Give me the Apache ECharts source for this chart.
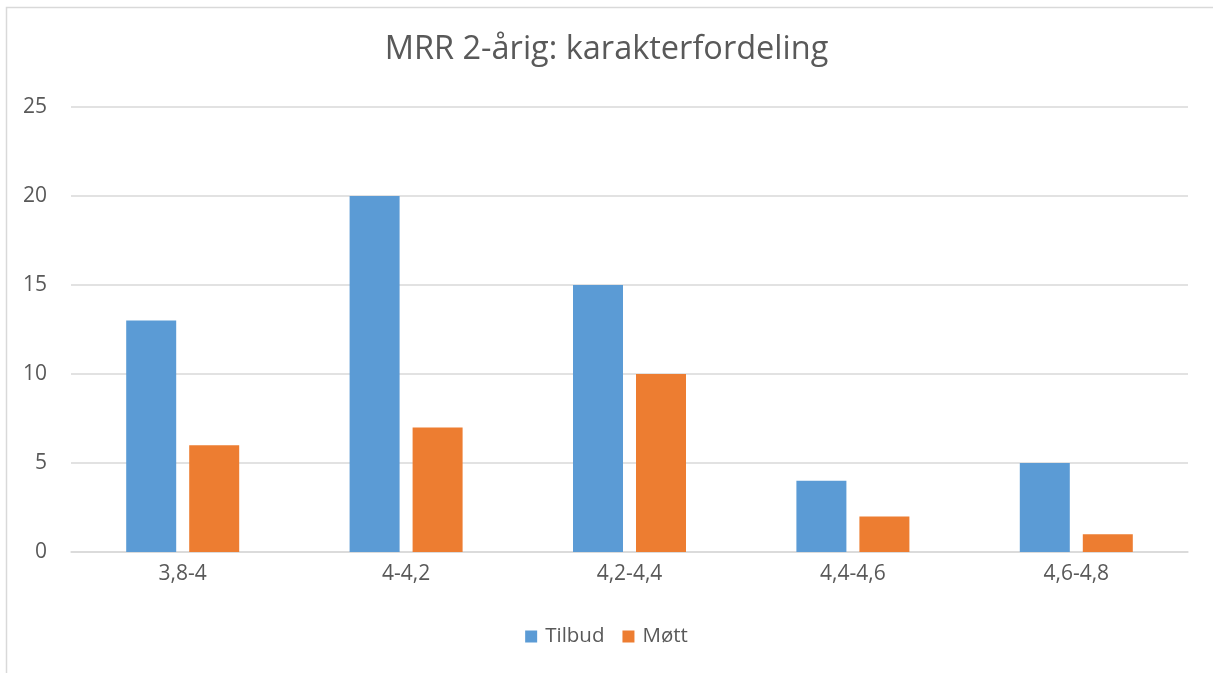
<!DOCTYPE html>
<html>
<head>
<meta charset="utf-8">
<script src="https://cdn.jsdelivr.net/npm/echarts@6/dist/echarts.min.js"></script>
<style>html,body{margin:0;padding:0;background:#fff}#c{width:1213px;height:673px}</style>
</head>
<body>
<div id="c"></div>
<script>
const categories = ['3,8-4', '4-4,2', '4,2-4,4', '4,4-4,6', '4,6-4,8'];
const tilbud = [13, 20, 15, 4, 5];
const mott = [6, 7, 10, 2, 1];
const seriesNames = ['Tilbud', 'Møtt'];

const chart = echarts.init(document.getElementById('c'), null, {renderer: 'canvas'});
const font = 'Open Sans';
chart.setOption({
  animation: false,
  backgroundColor: '#fff',
  title: {
    text: 'MRR 2-årig: karakterfordeling',
    left: 'center', top: 28,
    textStyle: {fontFamily: font, fontSize: 32.5, fontWeight: 'normal', color: '#595959'}
  },
  legend: {
    bottom: 21, left: 'center',
    itemWidth: 12, itemHeight: 12, itemGap: 18,
    icon: 'rect',
    textStyle: {fontFamily: font, fontSize: 20.5, color: '#595959', padding: [0, 0, 0, 3]},
    data: seriesNames
  },
  graphic: [{
    type: 'rect', shape: {x: 6.5, y: 7.5, width: 1220, height: 680},
    style: {fill: 'none', stroke: '#D9D9D9', lineWidth: 1.5}, silent: true
  }],
  grid: {left: 71, right: 25, top: 107, bottom: 121},
  xAxis: {
    type: 'category', data: categories,
    axisLine: {lineStyle: {color: '#D9D9D9', width: 1.5}},
    axisTick: {show: false},
    axisLabel: {fontFamily: font, fontSize: 21, color: '#595959', margin: 12}
  },
  yAxis: {
    type: 'value', min: 0, max: 25, interval: 5,
    axisLine: {show: false}, axisTick: {show: false},
    splitLine: {lineStyle: {color: '#D9D9D9', width: 1.5}},
    axisLabel: {fontFamily: font, fontSize: 21, color: '#595959', margin: 24}
  },
  series: [
    {name: seriesNames[0], type: 'bar', data: tilbud, barWidth: 50, barGap: '26%', itemStyle: {color: '#5B9BD5'}},
    {name: seriesNames[1], type: 'bar', data: mott, barWidth: 50, itemStyle: {color: '#ED7D31'}}
  ]
});
</script>
</body>
</html>
